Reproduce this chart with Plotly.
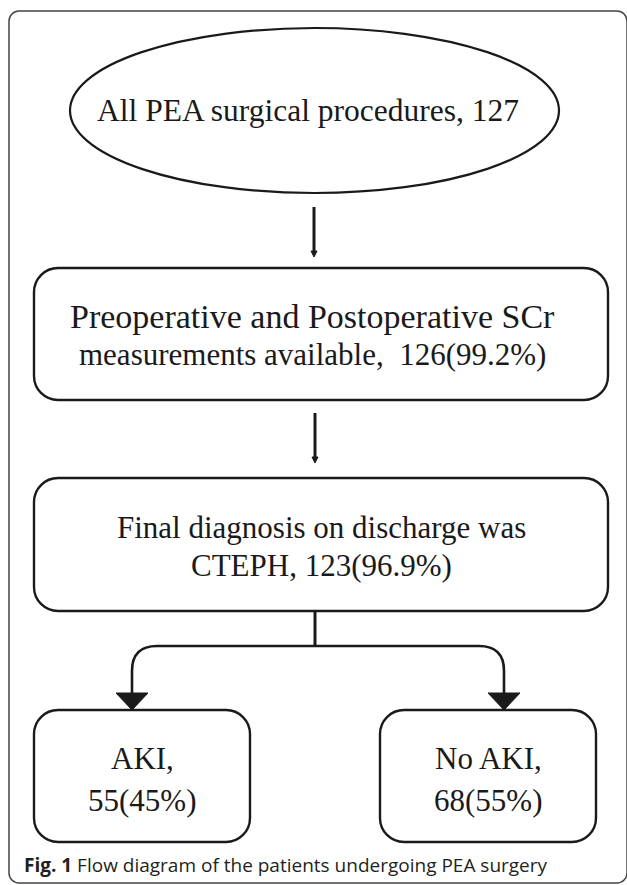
import plotly.graph_objects as go

# ---- content ----
node_texts = [
    ["All PEA surgical procedures, 127"],
    ["Preoperative and Postoperative SCr", "measurements available,  126(99.2%)"],
    ["Final diagnosis on discharge was", "CTEPH, 123(96.9%)"],
    ["AKI,", "55(45%)"],
    ["No AKI,", "68(55%)"],
]
caption_bold = "Fig. 1"
caption_text = "Flow diagram of the patients undergoing PEA surgery"

W, H = 627, 885
INK = "#1a1a1a"
SERIF = "Liberation Serif, Times New Roman, serif"


def rrect(x0, y0, x1, y1, r):
    k = 0.4477 * r
    return (f"M {x0+r} {y0} L {x1-r} {y0} C {x1-k} {y0} {x1} {y0+k} {x1} {y0+r} "
            f"L {x1} {y1-r} C {x1} {y1-k} {x1-k} {y1} {x1-r} {y1} "
            f"L {x0+r} {y1} C {x0+k} {y1} {x0} {y1-k} {x0} {y1-r} "
            f"L {x0} {y0+r} C {x0} {y0+k} {x0+k} {y0} {x0+r} {y0} Z")


shapes = []
# outer frame
shapes.append(dict(type="path", path=rrect(9, 11, 627, 883, 10),
                   line=dict(color="#444444", width=1.5)))
# ellipse
shapes.append(dict(type="circle", x0=70, x1=559, y0=28, y1=193,
                   line=dict(color=INK, width=2.2)))
# boxes
boxes = [(34, 268, 608, 400), (34, 478, 608, 611), (34, 710, 250, 842), (380, 710, 596, 842)]
for (a, b, c, d) in boxes:
    shapes.append(dict(type="path", path=rrect(a, b, c, d, 24),
                       line=dict(color=INK, width=2.4)))
# straight arrows (thin heads)
for (x, ya, yb) in [(314, 207, 252), (315, 413, 458)]:
    shapes.append(dict(type="line", x0=x, x1=x, y0=ya, y1=yb, line=dict(color=INK, width=3)))
    shapes.append(dict(type="path", path=f"M {x-3} {yb-1} L {x+3} {yb-1} L {x} {yb+5} Z",
                       fillcolor=INK, line=dict(color=INK, width=1)))
# branch
shapes.append(dict(type="line", x0=315, x1=315, y0=611, y1=646, line=dict(color=INK, width=3)))
shapes.append(dict(type="path",
                   path="M 132 694 L 132 671 Q 132 646 157 646 L 479 646 Q 504 646 504 671 L 504 694",
                   line=dict(color=INK, width=2.6)))
for x in (132, 504):
    shapes.append(dict(type="path", path=f"M {x-16} 693 L {x+16} 693 L {x} 710 Z",
                       fillcolor=INK, line=dict(color=INK, width=1)))

# text annotations
anns = []
text_pos = [
    (308, [110], [31.5]),
    (312, [316, 354], [34, 31]),
    (321, [527, 565], [31, 31]),
    (142, [758, 800], [31, 31]),
    (488, [758, 800], [31, 31]),
]
for lines, (x, ys, sizes) in zip(node_texts, text_pos):
    for t, y, s in zip(lines, ys, sizes):
        anns.append(dict(x=x, y=y, xref="x", yref="y", text=t, showarrow=False,
                         xanchor="center", yanchor="middle",
                         font=dict(family=SERIF, size=s, color=INK)))
anns.append(dict(x=22, y=865, xref="x", yref="y",
                 text=f"<b>{caption_bold}</b> {caption_text}", showarrow=False,
                 xanchor="left", yanchor="middle",
                 font=dict(family="Open Sans, sans-serif", size=19, color="#231f20")))

fig = go.Figure()
fig.update_layout(
    width=W, height=H, margin=dict(l=0, r=0, t=0, b=0),
    paper_bgcolor="white", plot_bgcolor="white",
    xaxis=dict(range=[0, W], visible=False, fixedrange=True),
    yaxis=dict(range=[H, 0], visible=False, fixedrange=True),
    shapes=shapes, annotations=anns, showlegend=False,
)
fig.write_html("out.html", config={"displayModeBar": False},
               post_script="document.body.style.margin='0';document.body.style.overflow='hidden';")
